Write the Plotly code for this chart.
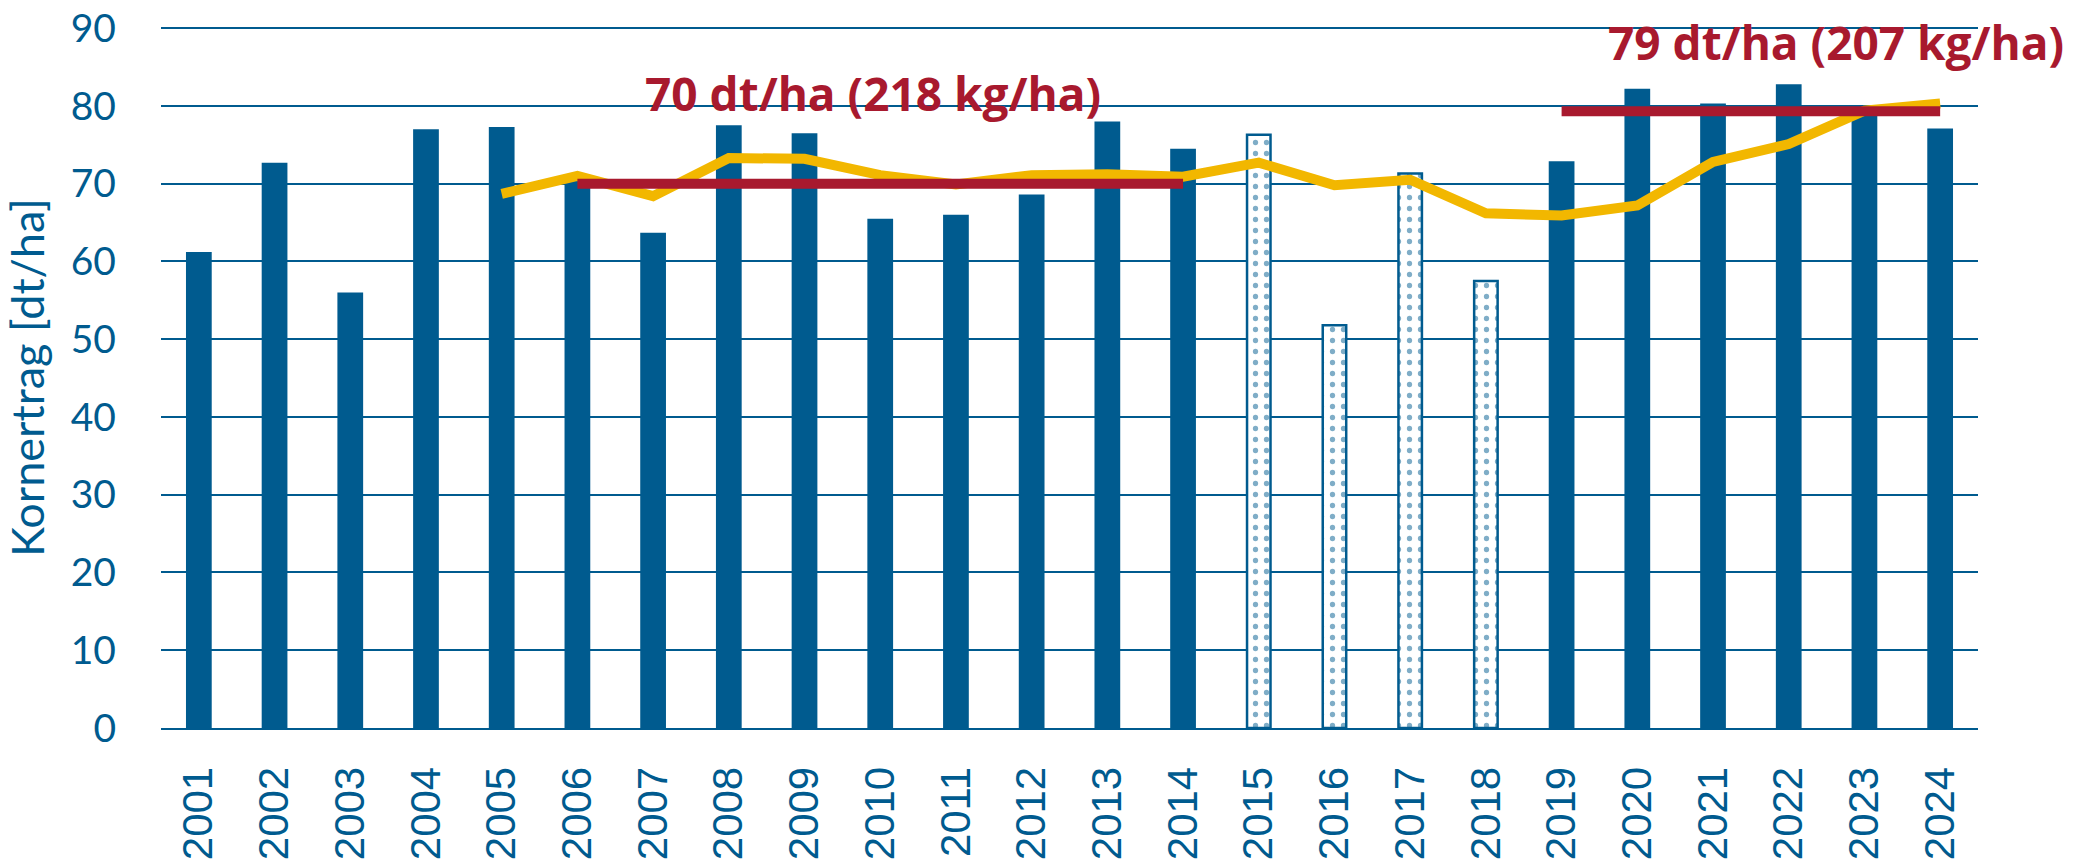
import plotly.graph_objects as go

years = list(range(2001, 2025))
yields = [61.2, 72.7, 56.0, 77.0, 77.3, 71.0, 63.7, 77.5, 76.5, 65.5, 66.0, 68.6,
          78.0, 74.5, 76.3, 51.8, 71.3, 57.5, 72.9, 82.2, 80.3, 82.8, 79.8, 77.1]
# years with dotted (special) bars
special_years = [2015, 2016, 2017, 2018]

avg_years = list(range(2005, 2025))
moving_avg = [68.7, 71.0, 68.4, 73.3, 73.2, 71.1, 69.9, 71.1, 71.2, 70.9,
              72.7, 69.8, 70.5, 66.2, 65.9, 67.2, 72.8, 75.1, 79.4, 80.3]

period1_years = [2006, 2014]
period1_value = [70.0, 70.0]
period1_label = "70 dt/ha (218 kg/ha)"
period2_years = [2019, 2024]
period2_value = [79.3, 79.3]
period2_label = "79 dt/ha (207 kg/ha)"

y_ticks = [0, 10, 20, 30, 40, 50, 60, 70, 80, 90]

BLUE = "#005B8F"
RED = "#A8192E"
YELLOW = "#F2B700"

normal_x = [y for y in years if y not in special_years]
normal_v = [v for y, v in zip(years, yields) if y not in special_years]
spec_x = [y for y in years if y in special_years]
spec_v = [v for y, v in zip(years, yields) if y in special_years]

fig = go.Figure()
fig.add_trace(go.Bar(x=normal_x, y=normal_v, width=0.34, marker=dict(color=BLUE, line=dict(width=0)),
                     showlegend=False))
fig.add_trace(go.Bar(x=spec_x, y=spec_v, width=0.31,
                     marker=dict(color="white", line=dict(color=BLUE, width=2.5),
                                 pattern=dict(shape=".", fgcolor=BLUE, bgcolor="white", size=11, solidity=0.18)),
                     showlegend=False))
fig.add_trace(go.Scatter(x=avg_years, y=moving_avg, mode="lines",
                         line=dict(color=YELLOW, width=10), showlegend=False))
fig.add_trace(go.Scatter(x=period1_years, y=period1_value, mode="lines",
                         line=dict(color=RED, width=10), showlegend=False))
fig.add_trace(go.Scatter(x=period2_years, y=period2_value, mode="lines",
                         line=dict(color=RED, width=10), showlegend=False))

fig.add_annotation(x=2009.9, y=81.7, text="<b>" + period1_label + "</b>", showarrow=False,
                   font=dict(family="Open Sans", size=46, color=RED), xanchor="center", yanchor="middle")
fig.add_annotation(x=2022.63, y=88.2, text="<b>" + period2_label + "</b>", showarrow=False,
                   font=dict(family="Open Sans", size=46, color=RED), xanchor="center", yanchor="middle")

fig.update_layout(
    width=2091, height=859,
    margin=dict(l=161, r=113, t=27, b=131, autoexpand=False),
    plot_bgcolor="white", paper_bgcolor="white",
    barmode="overlay",
)
fig.update_xaxes(range=[2000.5, 2024.5], tickvals=years, ticktext=[str(y) for y in years],
                 tickangle=-90, tickfont=dict(family="Liberation Sans", size=42, color=BLUE),
                 showgrid=False, showline=True, linecolor=BLUE, linewidth=2, ticks="",
                 ticklabelstandoff=20, zeroline=False, automargin=False)
fig.update_yaxes(range=[0, 90.15], tickvals=y_ticks, showgrid=True, gridcolor=BLUE, gridwidth=2,
                 tickfont=dict(family="Lato", size=39, color=BLUE), ticks="", ticklabelstandoff=44,
                 title=dict(text="Kornertrag [dt/ha]", font=dict(family="Lato", size=45, color=BLUE), standoff=14),
                 zeroline=False, automargin=False)

fig.write_html("out.html", config={"displayModeBar": False},
               post_script="document.body.style.margin='0';document.body.style.overflow='hidden';")
